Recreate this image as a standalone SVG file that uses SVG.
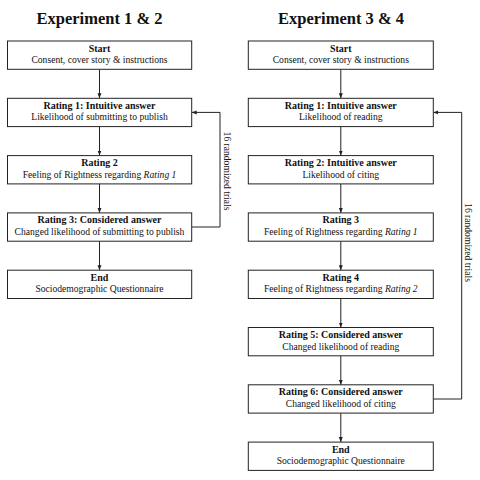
<svg xmlns="http://www.w3.org/2000/svg" width="480" height="480" viewBox="0 0 480 480">
<style>
.box{fill:#fff;stroke:#222;stroke-width:1}
.t{font-family:"Liberation Serif","DejaVu Serif",serif;font-size:9.6px;fill:#111;text-anchor:middle}
.b{font-weight:bold;font-size:10px}
.h{font-family:"Liberation Serif","DejaVu Serif",serif;font-size:16.5px;font-weight:bold;fill:#111;text-anchor:middle}
.c{fill:none;stroke:#222;stroke-width:1}
</style>
<defs>
<marker id="ar" viewBox="0 0 10 10" refX="10" refY="5" markerWidth="5" markerHeight="5" orient="auto" markerUnits="userSpaceOnUse">
<path d="M0,1 L10,5 L0,9 Z" fill="#222"/>
</marker>
</defs>
<rect width="480" height="480" fill="#fff"/>
<text class="h" x="99.5" y="24">Experiment 1 &amp; 2</text>
<text class="h" x="341" y="24">Experiment 3 &amp; 4</text>

<g id="connectors">
<line class="c" x1="99.5" y1="69.3" x2="99.5" y2="98.3" marker-end="url(#ar)"/>
<line class="c" x1="99.5" y1="126.6" x2="99.5" y2="155.6" marker-end="url(#ar)"/>
<line class="c" x1="99.5" y1="183.9" x2="99.5" y2="212.9" marker-end="url(#ar)"/>
<line class="c" x1="99.5" y1="241.2" x2="99.5" y2="270.2" marker-end="url(#ar)"/>
<polyline class="c" points="191.7,227 220,227 220,112.4 191.7,112.4" marker-end="url(#ar)"/>
<text class="t" transform="translate(227,171) rotate(90)" dominant-baseline="central">16 randomized trials</text>

<line class="c" x1="340.8" y1="69.3" x2="340.8" y2="98.3" marker-end="url(#ar)"/>
<line class="c" x1="340.8" y1="126.6" x2="340.8" y2="155.6" marker-end="url(#ar)"/>
<line class="c" x1="340.8" y1="183.9" x2="340.8" y2="212.9" marker-end="url(#ar)"/>
<line class="c" x1="340.8" y1="241.2" x2="340.8" y2="270.2" marker-end="url(#ar)"/>
<line class="c" x1="340.8" y1="298.5" x2="340.8" y2="327.5" marker-end="url(#ar)"/>
<line class="c" x1="340.8" y1="355.8" x2="340.8" y2="384.8" marker-end="url(#ar)"/>
<line class="c" x1="340.8" y1="413.1" x2="340.8" y2="442.1" marker-end="url(#ar)"/>
<polyline class="c" points="433.3,399 461.7,399 461.7,112.4 433.3,112.4" marker-end="url(#ar)"/>
<text class="t" transform="translate(468.5,242.5) rotate(90)" dominant-baseline="central">16 randomized trials</text>
</g>

<g id="l-start"><rect class="box" x="7.5" y="41" width="184.2" height="28.3"/>
<text class="t b" x="99.5" y="51.5">Start</text><text class="t" x="99.5" y="63">Consent, cover story &amp; instructions</text></g>
<g id="l-r1"><rect class="box" x="7.5" y="98.3" width="184.2" height="28.3"/>
<text class="t b" x="99.5" y="108.8">Rating 1: Intuitive answer</text><text class="t" x="99.5" y="120.3">Likelihood of submitting to publish</text></g>
<g id="l-r2"><rect class="box" x="7.5" y="155.6" width="184.2" height="28.3"/>
<text class="t b" x="99.5" y="166.1">Rating 2</text><text class="t" x="99.5" y="177.6">Feeling of Rightness regarding <tspan font-style="italic">Rating 1</tspan></text></g>
<g id="l-r3"><rect class="box" x="7.5" y="212.9" width="184.2" height="28.3"/>
<text class="t b" x="99.5" y="223.4">Rating 3: Considered answer</text><text class="t" x="99.5" y="234.9">Changed likelihood of submitting to publish</text></g>
<g id="l-end"><rect class="box" x="7.5" y="270.2" width="184.2" height="28.3"/>
<text class="t b" x="99.5" y="280.7">End</text><text class="t" x="99.5" y="292.2">Sociodemographic Questionnaire</text></g>

<g id="r-start"><rect class="box" x="248.3" y="41" width="185" height="28.3"/>
<text class="t b" x="340.8" y="51.5">Start</text><text class="t" x="340.8" y="63">Consent, cover story &amp; instructions</text></g>
<g id="r-r1"><rect class="box" x="248.3" y="98.3" width="185" height="28.3"/>
<text class="t b" x="340.8" y="108.8">Rating 1: Intuitive answer</text><text class="t" x="340.8" y="120.3">Likelihood of reading</text></g>
<g id="r-r2"><rect class="box" x="248.3" y="155.6" width="185" height="28.3"/>
<text class="t b" x="340.8" y="166.1">Rating 2: Intuitive answer</text><text class="t" x="340.8" y="177.6">Likelihood of citing</text></g>
<g id="r-r3"><rect class="box" x="248.3" y="212.9" width="185" height="28.3"/>
<text class="t b" x="340.8" y="223.4">Rating 3</text><text class="t" x="340.8" y="234.9">Feeling of Rightness regarding <tspan font-style="italic">Rating 1</tspan></text></g>
<g id="r-r4"><rect class="box" x="248.3" y="270.2" width="185" height="28.3"/>
<text class="t b" x="340.8" y="280.7">Rating 4</text><text class="t" x="340.8" y="292.2">Feeling of Rightness regarding <tspan font-style="italic">Rating 2</tspan></text></g>
<g id="r-r5"><rect class="box" x="248.3" y="327.5" width="185" height="28.3"/>
<text class="t b" x="340.8" y="338">Rating 5: Considered answer</text><text class="t" x="340.8" y="349.5">Changed likelihood of reading</text></g>
<g id="r-r6"><rect class="box" x="248.3" y="384.8" width="185" height="28.3"/>
<text class="t b" x="340.8" y="395.3">Rating 6: Considered answer</text><text class="t" x="340.8" y="406.8">Changed likelihood of citing</text></g>
<g id="r-end"><rect class="box" x="248.3" y="442.1" width="185" height="28.3"/>
<text class="t b" x="340.8" y="452.6">End</text><text class="t" x="340.8" y="464.1">Sociodemographic Questionnaire</text></g>
</svg>
